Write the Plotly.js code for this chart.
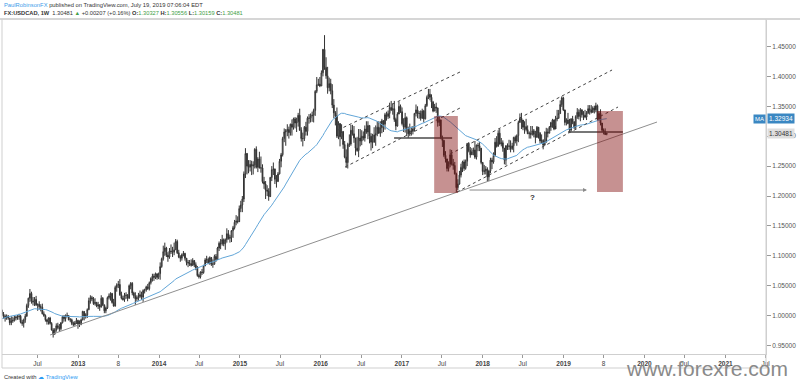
<!DOCTYPE html>
<html><head><meta charset="utf-8">
<script src="https://cdn.plot.ly/plotly-3.0.1.min.js"></script>
<style>html,body{margin:0;padding:0;background:#fff;overflow:hidden}#chart{width:800px;height:385px}</style>
</head><body><div id="chart"></div>
<script>
// ---------- weekly USDCAD data ----------
const firstWeek = '2012-01-23';
const firstOpen = 1.0090;
const lastOpen = 1.30327;
const maPeriod = 40;
// closes of the weeks before the visible range (used only to seed the moving average)
const warmupCloses = [0.9460,0.9660,0.9680,0.9750,0.9740,0.9760,0.9770,0.9810,0.9850,0.9620,0.9620,0.9520,0.9450,0.9530,0.9770,0.9880,0.9850,0.9800,0.9850,0.9930,0.9780,1.0280,1.0480,1.0320,1.0050,1.0080,0.9890,1.0100,1.0150,1.0290,1.0420,1.0160,1.0200,1.0400,1.0260,1.0210,1.0240,1.0210,1.0090];

const close2012 = [1.0020,0.9990,0.9960,0.9990,0.9960,0.9880,0.9910,0.9920,0.9960,0.9975,0.9980,0.9990,0.9890,0.9870,0.9930,0.9990,1.0170,1.0290,1.0370,1.0240,1.0230,1.0270,1.0180,1.0190,1.0150,1.0140,1.0030,1.0000,0.9930,0.9900,0.9960,0.9870,0.9760,0.9690,0.9760,0.9830,0.9800,0.9780,0.9880,0.9980,0.9950,1.0000,1.0000,0.9930,0.9930,0.9870,0.9850,0.9880,0.9920,0.9860];
const high2012 = [1.0100,1.0060,1.0020,1.0020,1.0010,0.9960,0.9990,0.9980,1.0000,1.0000,1.0010,1.0030,1.0010,0.9930,0.9950,1.0030,1.0200,1.0300,1.0445,1.0400,1.0310,1.0310,1.0330,1.0200,1.0240,1.0190,1.0200,1.0070,1.0020,0.9940,0.9970,0.9980,0.9890,0.9790,0.9790,0.9870,0.9880,0.9860,0.9890,1.0000,1.0010,1.0020,1.0050,1.0000,0.9960,0.9950,0.9900,0.9910,0.9960,0.9930];
const low2012  = [0.9990,0.9950,0.9900,0.9930,0.9930,0.9840,0.9840,0.9880,0.9900,0.9920,0.9930,0.9930,0.9870,0.9830,0.9800,0.9880,0.9980,1.0130,1.0230,1.0200,1.0170,1.0160,1.0160,1.0080,1.0100,1.0070,1.0020,0.9980,0.9900,0.9850,0.9850,0.9850,0.9750,0.9633,0.9680,0.9730,0.9770,0.9730,0.9750,0.9870,0.9900,0.9900,0.9970,0.9920,0.9890,0.9840,0.9820,0.9830,0.9860,0.9780];

const close2013 = [0.9850,0.9930,1.0070,0.9990,1.0010,1.0100,1.0250,1.0300,1.0280,1.0200,1.0220,1.0160,1.0180,1.0140,1.0290,1.0180,1.0080,1.0130,1.0300,1.0330,1.0370,1.0220,1.0160,1.0470,1.0510,1.0520,1.0350,1.0290,1.0270,1.0340,1.0340,1.0290,1.0500,1.0540,1.0380,1.0330,1.0280,1.0300,1.0320,1.0350,1.0310,1.0420,1.0430,1.0480,1.0450,1.0550,1.0620,1.0660,1.0640,1.0700,1.0640,1.0700];
const high2013 = [0.9920,0.9950,1.0080,1.0070,1.0040,1.0120,1.0300,1.0340,1.0330,1.0310,1.0290,1.0230,1.0230,1.0190,1.0340,1.0310,1.0180,1.0150,1.0320,1.0370,1.0390,1.0380,1.0280,1.0500,1.0540,1.0580,1.0610,1.0400,1.0330,1.0380,1.0390,1.0360,1.0520,1.0560,1.0560,1.0400,1.0390,1.0340,1.0380,1.0420,1.0400,1.0440,1.0450,1.0500,1.0530,1.0570,1.0640,1.0700,1.0700,1.0720,1.0700,1.0720];
const low2013  = [0.9810,0.9840,0.9920,0.9920,0.9950,0.9960,1.0090,1.0200,1.0240,1.0180,1.0170,1.0140,1.0110,1.0080,1.0140,1.0160,1.0040,1.0040,1.0110,1.0270,1.0250,1.0200,1.0150,1.0150,1.0400,1.0460,1.0330,1.0270,1.0250,1.0230,1.0280,1.0240,1.0280,1.0440,1.0340,1.0290,1.0180,1.0240,1.0250,1.0290,1.0260,1.0230,1.0370,1.0400,1.0430,1.0420,1.0520,1.0570,1.0580,1.0610,1.0600,1.0610];

const close2014 = [1.0820,1.0950,1.1070,1.1130,1.1010,1.0980,1.1080,1.1070,1.1060,1.1100,1.1240,1.1050,1.0980,1.0960,1.1020,1.1040,1.0960,1.0890,1.0880,1.0870,1.0840,1.0920,1.0850,1.0800,1.0670,1.0650,1.0730,1.0720,1.0830,1.0930,1.0940,1.0880,1.0970,1.0860,1.0860,1.0990,1.0940,1.1130,1.1210,1.1200,1.1270,1.1200,1.1270,1.1370,1.1290,1.1310,1.1420,1.1470,1.1560,1.1580,1.1570,1.1790];
const high2014 = [1.0890,1.0970,1.1170,1.1220,1.1150,1.1060,1.1130,1.1190,1.1150,1.1220,1.1280,1.1270,1.1100,1.1010,1.1040,1.1080,1.1050,1.0960,1.0930,1.0930,1.0940,1.0960,1.0930,1.0890,1.0830,1.0700,1.0740,1.0780,1.0850,1.0960,1.1000,1.0970,1.0990,1.0980,1.0940,1.1020,1.1030,1.1150,1.1240,1.1280,1.1350,1.1290,1.1290,1.1460,1.1430,1.1350,1.1430,1.1500,1.1600,1.1680,1.1660,1.1840];
const low2014  = [1.0600,1.0800,1.0920,1.1000,1.0980,1.0900,1.0950,1.1030,1.0980,1.1010,1.1100,1.1030,1.0960,1.0900,1.0920,1.0990,1.0920,1.0840,1.0810,1.0830,1.0820,1.0850,1.0810,1.0760,1.0650,1.0620,1.0620,1.0680,1.0700,1.0830,1.0880,1.0860,1.0850,1.0830,1.0800,1.0850,1.0900,1.0930,1.1080,1.1110,1.1170,1.1160,1.1100,1.1220,1.1270,1.1220,1.1230,1.1300,1.1440,1.1510,1.1540,1.1580];

const close2015 = [1.1850,1.1950,1.2370,1.2710,1.2500,1.2480,1.2530,1.2500,1.2520,1.2780,1.2480,1.2620,1.2470,1.2470,1.2240,1.2200,1.2100,1.2080,1.1990,1.2310,1.2440,1.2450,1.2280,1.2240,1.2370,1.2580,1.2690,1.2960,1.3070,1.3090,1.3110,1.3060,1.3200,1.3150,1.3290,1.3220,1.3240,1.3350,1.3100,1.2960,1.2960,1.3150,1.3080,1.3300,1.3300,1.3340,1.3350,1.3430,1.3750,1.3860,1.3870,1.3840];
const high2015 = [1.1920,1.2000,1.2410,1.2800,1.2720,1.2600,1.2600,1.2590,1.2580,1.2800,1.2830,1.2650,1.2740,1.2660,1.2530,1.2320,1.2250,1.2180,1.2130,1.2320,1.2500,1.2560,1.2460,1.2350,1.2400,1.2620,1.2720,1.2990,1.3130,1.3120,1.3200,1.3160,1.3210,1.3280,1.3310,1.3320,1.3310,1.3390,1.3460,1.3150,1.3060,1.3170,1.3240,1.3330,1.3370,1.3380,1.3410,1.3460,1.3770,1.3990,1.3960,1.3990];
const low2015  = [1.1730,1.1730,1.1900,1.2300,1.2360,1.2380,1.2410,1.2350,1.2360,1.2460,1.2460,1.2400,1.2460,1.2390,1.2210,1.2120,1.1950,1.2000,1.1920,1.2000,1.2250,1.2350,1.2200,1.2140,1.2240,1.2360,1.2480,1.2660,1.2900,1.2840,1.3000,1.2960,1.3010,1.3010,1.3110,1.3130,1.3070,1.3160,1.3090,1.2910,1.2830,1.2920,1.3010,1.3010,1.3210,1.3230,1.3240,1.3230,1.3340,1.3720,1.3840,1.3820];

const close2016 = [1.4060,1.4450,1.4150,1.4010,1.3810,1.3880,1.3760,1.3520,1.3390,1.3340,1.3000,1.3210,1.2990,1.3080,1.2860,1.2650,1.2560,1.2860,1.2870,1.3100,1.3040,1.2970,1.2800,1.2760,1.2970,1.2920,1.3000,1.2970,1.3120,1.3070,1.3180,1.3000,1.2900,1.2900,1.3020,1.3040,1.3150,1.3050,1.3140,1.3260,1.3200,1.3360,1.3330,1.3380,1.3480,1.3440,1.3460,1.3280,1.3170,1.3370,1.3500,1.3410];
const high2016 = [1.4100,1.4460,1.4690,1.4320,1.4160,1.3980,1.3960,1.3870,1.3620,1.3420,1.3480,1.3250,1.3220,1.3200,1.3080,1.2920,1.2780,1.2890,1.3030,1.3190,1.3190,1.3170,1.2960,1.2990,1.3120,1.3120,1.3100,1.3080,1.3180,1.3250,1.3250,1.3180,1.3050,1.3040,1.3150,1.3180,1.3250,1.3250,1.3250,1.3290,1.3220,1.3390,1.3410,1.3430,1.3560,1.3590,1.3550,1.3590,1.3310,1.3400,1.3580,1.3530];
const low2016  = [1.3840,1.4000,1.4110,1.3960,1.3710,1.3750,1.3700,1.3470,1.3300,1.3180,1.2970,1.2950,1.2830,1.2950,1.2790,1.2630,1.2470,1.2460,1.2820,1.2840,1.3010,1.2890,1.2680,1.2740,1.2650,1.2830,1.2850,1.2930,1.2910,1.3040,1.2950,1.2880,1.2760,1.2800,1.2890,1.2840,1.3000,1.3040,1.2990,1.3050,1.3070,1.3110,1.3260,1.3290,1.3300,1.3420,1.3360,1.3240,1.3100,1.3160,1.3370,1.3390];

const close2017 = [1.3210,1.3150,1.3310,1.3110,1.3040,1.3090,1.3080,1.3120,1.3380,1.3440,1.3380,1.3380,1.3300,1.3420,1.3290,1.3510,1.3650,1.3700,1.3650,1.3570,1.3420,1.3490,1.3470,1.3230,1.3270,1.2970,1.2930,1.2680,1.2620,1.2460,1.2530,1.2690,1.2540,1.2510,1.2370,1.2140,1.2200,1.2350,1.2480,1.2570,1.2460,1.2580,1.2880,1.2760,1.2690,1.2740,1.2770,1.2650,1.2850,1.2840,1.2800,1.2560];
const high2017 = [1.3480,1.3300,1.3390,1.3330,1.3160,1.3210,1.3160,1.3170,1.3390,1.3530,1.3500,1.3420,1.3430,1.3460,1.3440,1.3540,1.3680,1.3790,1.3790,1.3700,1.3590,1.3540,1.3560,1.3480,1.3330,1.3280,1.3010,1.2940,1.2750,1.2600,1.2580,1.2780,1.2770,1.2620,1.2570,1.2390,1.2280,1.2420,1.2540,1.2590,1.2610,1.2610,1.2880,1.2900,1.2820,1.2800,1.2810,1.2920,1.2860,1.2890,1.2900,1.2790];
const low2017  = [1.3180,1.3070,1.3060,1.3000,1.2970,1.3000,1.3010,1.3030,1.3080,1.3330,1.3300,1.3290,1.3260,1.3290,1.3230,1.3280,1.3490,1.3620,1.3600,1.3470,1.3400,1.3420,1.3390,1.3160,1.3170,1.2950,1.2820,1.2650,1.2560,1.2410,1.2410,1.2480,1.2510,1.2440,1.2360,1.2060,1.2100,1.2190,1.2310,1.2400,1.2420,1.2440,1.2500,1.2730,1.2640,1.2700,1.2680,1.2620,1.2610,1.2750,1.2750,1.2530];

const close2018 = [1.2410,1.2420,1.2450,1.2320,1.2420,1.2600,1.2570,1.2680,1.2900,1.2830,1.3050,1.2870,1.2890,1.2800,1.2600,1.2840,1.2840,1.2830,1.2790,1.2840,1.2980,1.2920,1.3010,1.3230,1.3300,1.3270,1.3150,1.3160,1.3110,1.3040,1.3050,1.3030,1.3090,1.3030,1.2980,1.3150,1.3050,1.2920,1.2930,1.2850,1.2900,1.3070,1.3050,1.3150,1.3230,1.3270,1.3120,1.3290,1.3300,1.3380,1.3530,1.3640,1.3440];
const high2018 = [1.2570,1.2520,1.2500,1.2480,1.2430,1.2640,1.2640,1.2730,1.2970,1.3000,1.3100,1.3120,1.2970,1.2930,1.2680,1.2850,1.2880,1.2940,1.2930,1.2890,1.2990,1.3010,1.3030,1.3260,1.3380,1.3390,1.3250,1.3250,1.3290,1.3180,1.3080,1.3170,1.3170,1.3120,1.3090,1.3170,1.3140,1.3070,1.3030,1.2950,1.3080,1.3140,1.3130,1.3170,1.3240,1.3290,1.3280,1.3340,1.3440,1.3440,1.3600,1.3665,1.3660];
const low2018  = [1.2350,1.2360,1.2360,1.2250,1.2250,1.2380,1.2450,1.2540,1.2660,1.2810,1.2830,1.2860,1.2830,1.2740,1.2530,1.2520,1.2770,1.2770,1.2730,1.2770,1.2730,1.2880,1.2840,1.2900,1.3240,1.3120,1.3100,1.3040,1.3080,1.3040,1.2960,1.2960,1.3010,1.2980,1.2880,1.2990,1.2960,1.2880,1.2880,1.2780,1.2860,1.2960,1.2980,1.3050,1.3090,1.3140,1.3100,1.3170,1.3250,1.3290,1.3370,1.3490,1.3420];

const close2019 = [1.3230,1.3270,1.3210,1.3100,1.3290,1.3240,1.3150,1.3330,1.3400,1.3330,1.3440,1.3360,1.3350,1.3320,1.3390,1.3460,1.3440,1.3400,1.3470,1.3440,1.3510,1.3280,1.3381,1.3220,1.3100,1.3080,1.3027,1.30481];
const high2019 = [1.3370,1.3300,1.3390,1.3290,1.3300,1.3340,1.3250,1.3350,1.3470,1.3450,1.3470,1.3450,1.3420,1.3440,1.3420,1.3520,1.3520,1.3520,1.3500,1.3510,1.3560,1.3530,1.3420,1.3450,1.3210,1.3130,1.3130,1.30556];
const low2019  = [1.3180,1.3180,1.3200,1.3070,1.3080,1.3200,1.3120,1.3110,1.3290,1.3280,1.3250,1.3310,1.3270,1.3300,1.3270,1.3370,1.3360,1.3380,1.3390,1.3380,1.3400,1.3260,1.3260,1.3180,1.3070,1.3030,1.3020,1.30159];

// ---------- axis ticks ----------
const xTickDates = ['2012-07-01','2013-01-01','2013-07-01','2014-01-01','2014-07-01','2015-01-01','2015-07-01','2016-01-01','2016-07-01','2017-01-01','2017-07-01','2018-01-01','2018-07-01','2019-01-01','2019-07-01','2020-01-01','2020-07-01','2021-01-01','2021-07-01'];
const xTickLabels = ['Jul','2013','8','2014','Jul','2015','Jul','2016','Jul','2017','Jul','2018','Jul','2019','8','2020','Jul','2021','Jul'];
const yTickValues = [0.95,1.00,1.05,1.10,1.15,1.20,1.25,1.30,1.35,1.40,1.45];

// ---------- author's drawings ----------
const trendX = ['2012-08-27','2020-02-27'];        const trendY = [0.9676,1.3237];
const chan1UpX = ['2016-03-19','2017-09-21'];      const chan1UpY = [1.3104,1.4074];
const chan1LoX = ['2016-04-20','2017-09-21'];      const chan1LoY = [1.2485,1.3472];
const chan2UpX = ['2017-08-07','2019-08-08'];      const chan2UpY = [1.2702,1.4107];
const chan2LoX = ['2017-09-07','2019-09-04'];      const chan2LoY = [1.2067,1.3488];
const level1X = ['2016-11-27','2017-08-16'];       const level1Y = [1.2970,1.2970];
const level2X = ['2019-01-21','2019-09-26'];       const level2Y = [1.3070,1.3070];
const box1X = ['2017-05-27','2017-09-11'];         const box1Y = [1.2050,1.3338];
const box2X = ['2019-06-01','2019-09-26'];         const box2Y = [1.2067,1.3420];
const arrowX = ['2017-10-27','2019-04-17'];        const arrowY = [1.2100,1.2100];
const questionPos = ['2018-08-16',1.1967];

// ---------- build ----------
const closes = [].concat(close2012,close2013,close2014,close2015,close2016,close2017,close2018,close2019);
const highs  = [].concat(high2012,high2013,high2014,high2015,high2016,high2017,high2018,high2019);
const lows   = [].concat(low2012,low2013,low2014,low2015,low2016,low2017,low2018,low2019);
const n = closes.length;
const opens = closes.map((c,i)=> i===0 ? firstOpen : (i===n-1 ? lastOpen : closes[i-1]));
const t0 = new Date(firstWeek+'T00:00:00Z').getTime();
const dates = closes.map((c,i)=> new Date(t0 + i*7*86400000).toISOString().slice(0,10));
const allCloses = warmupCloses.concat(closes);
const ma = closes.map((c,i)=>{ const j=i+warmupCloses.length; let s=0; for(let k=j-maPeriod+1;k<=j;k++) s+=allCloses[k]; return s/maPeriod; });

// pixel helpers for page furniture (plot area: x 2..766, y 20..354)
const PX = x => (x-2)/764, PY = y => (354-y)/334;
const F = 'Liberation Sans, Arial, sans-serif';

const lineTrace = (x,y,color,dash,width)=>({type:'scatter',mode:'lines',x:x,y:y,line:{color:color,dash:dash,width:width},hoverinfo:'skip',showlegend:false});

const traces = [
  {type:'candlestick', x:dates, open:opens, high:highs, low:lows, close:closes,
   increasing:{line:{color:'#333333',width:1},fillcolor:'#ffffff'},
   decreasing:{line:{color:'#333333',width:1},fillcolor:'#333333'},
   whiskerwidth:0, showlegend:false, hoverinfo:'skip'},
  lineTrace(dates, ma, '#62a6d8', 'solid', 1),
  lineTrace(trendX, trendY, '#8f8f8f', 'solid', 1),
  lineTrace(chan1UpX, chan1UpY, '#444', 'dot', 1),
  lineTrace(chan1LoX, chan1LoY, '#444', 'dot', 1),
  lineTrace(chan2UpX, chan2UpY, '#444', 'dot', 1),
  lineTrace(chan2LoX, chan2LoY, '#444', 'dot', 1),
  lineTrace(level1X, level1Y, '#4a4a4a', 'solid', 1.6),
  lineTrace(level2X, level2Y, '#4a4a4a', 'solid', 1.6)
];

const shapes = [
  {type:'rect',xref:'x',yref:'y',x0:box1X[0],x1:box1X[1],y0:box1Y[0],y1:box1Y[1],fillcolor:'rgba(128,10,10,0.45)',line:{width:0},layer:'above'},
  {type:'rect',xref:'x',yref:'y',x0:box2X[0],x1:box2X[1],y0:box2Y[0],y1:box2Y[1],fillcolor:'rgba(128,10,10,0.45)',line:{width:0},layer:'above'},
  // frame
  {type:'line',xref:'paper',yref:'paper',x0:PX(0),x1:PX(800),y0:PY(19),y1:PY(19),line:{color:'#d6d6d6',width:2}},
  {type:'line',xref:'paper',yref:'paper',x0:PX(2),x1:PX(2),y0:PY(19),y1:PY(368),line:{color:'#cfcfcf',width:1}},
  {type:'line',xref:'paper',yref:'paper',x0:PX(2),x1:PX(767),y0:PY(368),y1:PY(368),line:{color:'#cfcfcf',width:1}},
  {type:'line',xref:'paper',yref:'paper',x0:PX(766),x1:PX(766),y0:PY(19),y1:PY(368),line:{color:'#cfcfcf',width:1}}
];

const hdr = '<span style="color:#3d9be9">PaulRobinsonFX</span> published on TradingView.com, July 19, 2019 07:06:04 EDT';
const G = s => '<span style="color:#43a047">'+s+'</span>';
const hdr2 = '<b>FX:USDCAD, 1W</b>  1.30481 '+G('▲')+' +0.00207 (+0.16%) <b>O:</b>'+G('1.30327')+' <b>H:</b>'+G('1.30556')+' <b>L:</b>'+G('1.30159')+' <b>C:</b>'+G(closes[n-1].toFixed(5));

const annotations = [
  {xref:'paper',yref:'paper',x:PX(2),y:PY(5),xanchor:'left',yanchor:'middle',showarrow:false,text:hdr,font:{family:F,size:5.8,color:'#333'}},
  {xref:'paper',yref:'paper',x:PX(2),y:PY(13.5),xanchor:'left',yanchor:'middle',showarrow:false,text:hdr2,font:{family:F,size:5.7,color:'#333'}},
  {xref:'paper',yref:'paper',x:PX(2),y:PY(377),xanchor:'left',yanchor:'middle',showarrow:false,text:'Created with <span style="color:#2b9af3">☁ TradingView</span>',font:{family:F,size:5.8,color:'#333'}},
  {xref:'paper',yref:'paper',x:PX(624),y:PY(368),xanchor:'left',yanchor:'middle',showarrow:false,text:'www.forexre.com',font:{family:F,size:21,color:'#8a8a8a'}},
  // arrow
  {xref:'x',yref:'y',axref:'x',ayref:'y',x:arrowX[1],y:arrowY[1],ax:arrowX[0],ay:arrowY[0],showarrow:true,arrowhead:2,arrowsize:0.8,arrowwidth:1,arrowcolor:'#8a8a8a',text:''},
  {xref:'x',yref:'y',x:questionPos[0],y:questionPos[1],showarrow:false,text:'<b>?</b>',font:{family:F,size:8,color:'#333'}},
  // price scale labels
  {xref:'paper',yref:'y',x:PX(781.5),y:ma[n-1],xanchor:'center',yanchor:'middle',showarrow:false,text:ma[n-1].toFixed(5),bgcolor:'#3a87c2',borderpad:1,font:{family:F,size:6.5,color:'#ffffff'}},
  {xref:'paper',yref:'y',x:PX(759),y:ma[n-1],xanchor:'center',yanchor:'middle',showarrow:false,text:'MA',bgcolor:'#3a87c2',borderpad:1,font:{family:F,size:6,color:'#ffffff'}},
  {xref:'paper',yref:'y',x:PX(781.5),y:closes[n-1],xanchor:'center',yanchor:'middle',showarrow:false,text:closes[n-1].toFixed(5),bgcolor:'#dedede',borderpad:1,font:{family:F,size:6.5,color:'#333'}}
];

const layout = {
  width:800, height:385, margin:{l:2,r:34,t:20,b:31,pad:0},
  paper_bgcolor:'#ffffff', plot_bgcolor:'#ffffff', showlegend:false,
  xaxis:{type:'date', range:['2012-01-23','2021-07-03'], rangeslider:{visible:false},
    tickmode:'array', tickvals:xTickDates, ticktext:xTickLabels.map(s=>/^\d{4}$/.test(s)?'<b>'+s+'</b>':s),
    ticks:'outside', ticklen:3, tickcolor:'#999', showgrid:false, zeroline:false,
    showline:true, linecolor:'#cfcfcf', linewidth:1, tickfont:{family:F,size:6.5,color:'#444'}},
  yaxis:{side:'right', range:[0.9358,1.4943], tickmode:'array', tickvals:yTickValues, ticktext:yTickValues.map(v=>v.toFixed(5)),
    ticks:'outside', ticklen:4, tickcolor:'#999', showgrid:false, zeroline:false,
    showline:true, linecolor:'#cfcfcf', tickfont:{family:F,size:6.5,color:'#555'}},
  shapes:shapes, annotations:annotations
};
Plotly.newPlot('chart', traces, layout, {displayModeBar:false, staticPlot:true});
</script></body></html>
